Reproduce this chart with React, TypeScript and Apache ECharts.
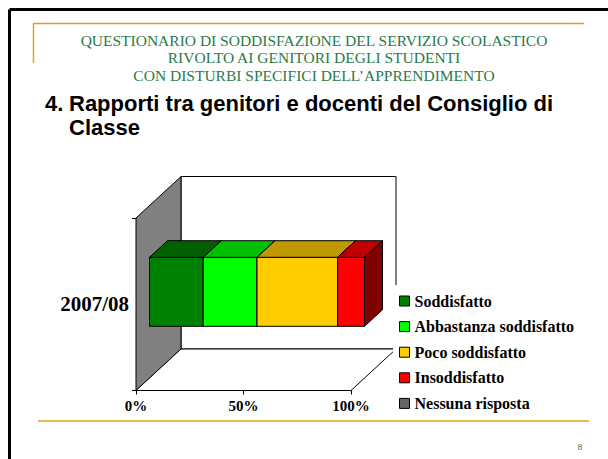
import React, { useEffect, useRef } from 'react';
import * as echarts from 'echarts';

const categories = ['2007/08'];
const seriesNames = ['Soddisfatto', 'Abbastanza soddisfatto', 'Poco soddisfatto', 'Insoddisfatto', 'Nessuna risposta'];
const soddisfatto = [25];
const abbastanza = [25];
const poco = [37.5];
const insoddisfatto = [12.5];
const nessuna = [0];
const xTickInterval = 50;
const headerLines = [
  'QUESTIONARIO DI SODDISFAZIONE DEL SERVIZIO SCOLASTICO',
  'RIVOLTO AI GENITORI DEGLI STUDENTI',
  'CON DISTURBI SPECIFICI DELL\u2019APPRENDIMENTO',
];
const titleNumber = '4.';
const titleLines = ['Rapporti tra genitori e docenti del Consiglio di', 'Classe'];
const pageNumber = '8';

const allValues = [soddisfatto, abbastanza, poco, insoddisfatto, nessuna];
const faceColors = [
  ['#008000', '#006000', '#004000'],
  ['#00FF00', '#00C000', '#008000'],
  ['#FFCC00', '#C09900', '#806600'],
  ['#FF0000', '#C00000', '#800000'],
  ['#666666', '#4D4D4D', '#333333'],
];

const DEPTH_X = 45;
const DEPTH_Y = 41.5;
const BAR_FRONT = 0.3;
const BAR_BACK = 0.7;
const BAR_WIDTH = 0.4;

const serif = 'Liberation Serif, Times New Roman, serif';
const sans = 'Liberation Sans, Arial, sans-serif';

export default function App() {
  const ref = useRef<HTMLDivElement>(null);
  useEffect(() => {
    if (!ref.current) return;
    const chart = echarts.init(ref.current, null, { renderer: 'svg' });

    const starts: number[][] = allValues.map(() => categories.map(() => 0));
    categories.forEach((_, ci) => {
      let acc = 0;
      allValues.forEach((arr, si) => {
        starts[si][ci] = acc;
        acc += arr[ci];
      });
    });

    const wallSeries: any = {
      type: 'custom',
      name: '__walls',
      z: 1,
      silent: true,
      data: categories.map((_, ci) => [0, 100, ci]),
      renderItem: (params: any, api: any) => {
        const c = api.value(2);
        const p0 = api.coord([api.value(0), c]);
        const p1 = api.coord([api.value(1), c]);
        const band = api.size([0, 1])[1];
        const yT = p0[1] - band / 2;
        const yB = p0[1] + band / 2;
        const x0 = p0[0];
        const x1 = p1[0];
        return {
          type: 'group',
          children: [
            {
              type: 'polygon',
              shape: { points: [[x0 + DEPTH_X, yT - DEPTH_Y], [x1 + DEPTH_X, yT - DEPTH_Y], [x1 + DEPTH_X, yB - DEPTH_Y], [x0 + DEPTH_X, yB - DEPTH_Y]] },
              style: { fill: '#fff', stroke: '#000', lineWidth: 1 },
            },
            {
              type: 'line',
              shape: { x1: x1 + DEPTH_X, y1: yT - DEPTH_Y, x2: x1 + DEPTH_X, y2: yB - DEPTH_Y },
              style: { stroke: '#808080', lineWidth: 1.5 },
            },
            {
              type: 'polygon',
              shape: { points: [[x0, yB], [x0, yT], [x0 + DEPTH_X, yT - DEPTH_Y], [x0 + DEPTH_X, yB - DEPTH_Y]] },
              style: { fill: '#808080', stroke: '#000', lineWidth: 1 },
            },
            {
              type: 'polygon',
              shape: { points: [[x0, yB], [x1, yB], [x1 + DEPTH_X, yB - DEPTH_Y], [x0 + DEPTH_X, yB - DEPTH_Y]] },
              style: { fill: '#fff', stroke: '#000', lineWidth: 1 },
            },
          ],
        };
      },
    };

    const barSeries = seriesNames.map((name, si) => ({
      type: 'custom',
      name,
      z: 2,
      itemStyle: { color: faceColors[si][0] },
      data: categories.map((_, ci) => [starts[si][ci], starts[si][ci] + allValues[si][ci], ci]),
      renderItem: (params: any, api: any) => {
        const s = api.value(0);
        const e = api.value(1);
        const c = api.value(2);
        if (e - s <= 0) return null;
        const p0 = api.coord([s, c]);
        const p1 = api.coord([e, c]);
        const band = api.size([0, 1])[1];
        const h = band * BAR_WIDTH;
        const fx = DEPTH_X * BAR_FRONT;
        const fy = DEPTH_Y * BAR_FRONT;
        const dx = DEPTH_X * (BAR_BACK - BAR_FRONT);
        const dy = DEPTH_Y * (BAR_BACK - BAR_FRONT);
        const xa = p0[0] + fx;
        const xb = p1[0] + fx;
        const yt = p0[1] - fy - h / 2;
        const yb = p0[1] - fy + h / 2;
        const st = { stroke: '#000', lineWidth: 1 };
        return {
          type: 'group',
          children: [
            { type: 'polygon', shape: { points: [[xa, yt], [xb, yt], [xb, yb], [xa, yb]] }, style: { ...st, fill: faceColors[si][0] } },
            { type: 'polygon', shape: { points: [[xa, yt], [xa + dx, yt - dy], [xb + dx, yt - dy], [xb, yt]] }, style: { ...st, fill: faceColors[si][1] } },
            { type: 'polygon', shape: { points: [[xb, yt], [xb + dx, yt - dy], [xb + dx, yb - dy], [xb, yb]] }, style: { ...st, fill: faceColors[si][2] } },
          ],
        };
      },
    }));

    const headerGreen = '#2A7A48';
    const gold = '#D9A521';

    const graphic: any[] = [
      { type: 'line', shape: { x1: 9.5, y1: 9.5, x2: 608, y2: 9.5 }, style: { stroke: '#000', lineWidth: 3 } },
      { type: 'line', shape: { x1: 9.5, y1: 9.5, x2: 9.5, y2: 459 }, style: { stroke: '#000', lineWidth: 3 } },
      { type: 'line', shape: { x1: 33, y1: 23.5, x2: 584, y2: 23.5 }, style: { stroke: gold, lineWidth: 1.5 } },
      { type: 'line', shape: { x1: 33.5, y1: 23.5, x2: 33.5, y2: 63 }, style: { stroke: gold, lineWidth: 1.5 } },
      { type: 'line', shape: { x1: 38, y1: 421, x2: 589, y2: 421 }, style: { stroke: gold, lineWidth: 1.5 } },
      ...headerLines.map((t, i) => ({
        type: 'text',
        x: 314,
        y: [40, 57.5, 75.5][i],
        style: { text: t, fill: headerGreen, font: `15.5px ${serif}`, align: 'center', verticalAlign: 'middle' },
      })),
      { type: 'text', x: 45, y: 103, style: { text: titleNumber, fill: '#000', font: `bold 22px ${sans}`, align: 'left', verticalAlign: 'middle' } },
      ...titleLines.map((t, i) => ({
        type: 'text',
        x: 69,
        y: [103, 127][i],
        style: { text: t, fill: '#000', font: `bold 22px ${sans}`, align: 'left', verticalAlign: 'middle' },
      })),
      { type: 'text', x: 580, y: 447, style: { text: pageNumber, fill: '#555', font: `9px ${serif}`, align: 'center', verticalAlign: 'middle' } },
    ];

    chart.setOption({
      animation: false,
      backgroundColor: '#fff',
      grid: { left: 136, top: 218, width: 215, height: 172.5, outerBoundsMode: 'none' },
      xAxis: {
        type: 'value',
        min: 0,
        max: 100,
        interval: xTickInterval,
        axisLine: { show: true, lineStyle: { color: '#000', width: 1 } },
        axisTick: { show: true, length: 4, lineStyle: { color: '#000' } },
        splitLine: { show: false },
        axisLabel: { formatter: '{value}%', color: '#000', fontFamily: serif, fontWeight: 'bold', fontSize: 15, margin: 8 },
      },
      yAxis: {
        type: 'category',
        data: categories,
        axisLine: { show: true, lineStyle: { color: '#000', width: 1 } },
        axisTick: { show: true, length: 4, lineStyle: { color: '#000' } },
        splitLine: { show: false },
        axisLabel: { color: '#000', fontFamily: serif, fontWeight: 'bold', fontSize: 21, margin: 7 },
      },
      legend: {
        orient: 'vertical',
        left: 393,
        top: 285,
        padding: [8, 10, 8, 6],
        backgroundColor: '#fff',
        itemWidth: 10,
        itemHeight: 10,
        itemGap: 9.6,
        icon: 'rect',
        selectedMode: false,
        data: seriesNames,
        itemStyle: { borderColor: '#000', borderWidth: 1 },
        textStyle: { fontFamily: serif, fontWeight: 'bold', fontSize: 16, color: '#000', lineHeight: 16 },
      },
      graphic,
      series: [wallSeries, ...barSeries],
    });

    return () => chart.dispose();
  }, []);

  return <div ref={ref} style={{ position: 'absolute', left: 0, top: 0, width: 608, height: 459 }} />;
}
